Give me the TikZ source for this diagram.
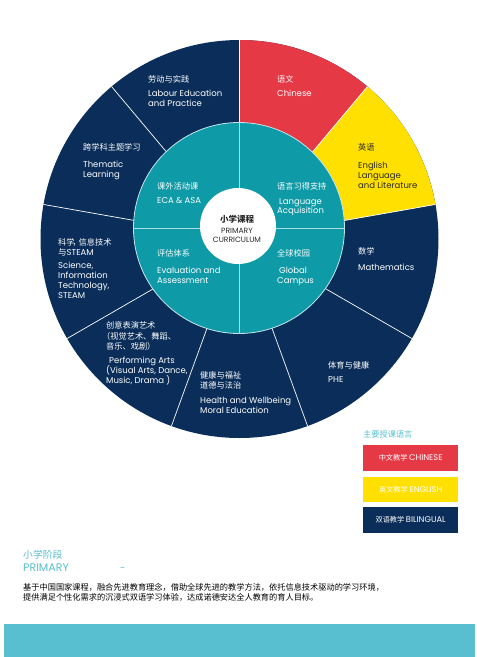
\documentclass[tikz,border=0pt]{standalone}
\usepackage{fontspec}
\setmainfont{Poppins}
\newfontfamily\cjk{Noto Sans CJK SC}
\definecolor{navy}{HTML}{0A2E59}
\definecolor{cred}{HTML}{E63946}
\definecolor{cyel}{HTML}{FFE000}
\definecolor{cteal}{HTML}{0E9AA6}
\definecolor{ccyan}{HTML}{57BFCF}
\definecolor{dark}{HTML}{2A2A2A}
\begin{document}
\begin{tikzpicture}[x=1pt,y=-1pt,
  en/.style={anchor=base west, inner sep=0, text=white, font=\fontsize{8.5}{9}\selectfont},
  zh/.style={anchor=base west, inner sep=0, text=white, font={\cjk\fontsize{8.2}{9}\selectfont}},
  ctr/.style={anchor=base, inner sep=0, text=dark, font=\fontsize{7.6}{8}\selectfont},
  divider/.style={draw=white, line width=0.7pt},
  cross/.style={draw=white!65!cteal, line width=0.8pt},
  legbox/.style={minimum width=95, minimum height=26, inner sep=0, text=white, font={\cjk\fontsize{7.2}{8}\selectfont}},
]
\useasboundingbox (0,0) rectangle (477,657);
% outer wheel
\coordinate (O) at (239.5,239);
\node[circle, fill=navy, minimum size=398, inner sep=0] (disk) at (O) {};
\fill[cred] (O) -- ++(-90:199) arc[start angle=-90, end angle=-50, radius=199] -- cycle;
\fill[cyel] (O) -- ++(-50:199) arc[start angle=-50, end angle=-10, radius=199] -- cycle;
\foreach \a in {-90,-50,-10,30,70,110,150,-170,-130}
  \draw[divider] (O) -- ++(\a:199);
% inner teal disc
\node[circle, fill=cteal, draw=white!75!cteal, line width=0.8pt, minimum size=211, inner sep=0] (inner) at (239,228) {};
\draw[cross] (inner.north) -- (inner.south);
\draw[cross] (inner.west) -- (inner.east);
\node[circle, fill=white, minimum size=76, inner sep=0] (core) at (238,226) {};
% centre text
\node[ctr, font={\cjk\bfseries\fontsize{8.5}{9}\selectfont}] (c1) at (237,222) {小学课程};
\node[ctr] (c2) at (237,233) {PRIMARY};
\node[ctr] (c3) at (237,242) {CURRICULUM};
% outer ring labels
\node[zh] (lab1) at (148,82) {劳动与实践};
\node[en] (lab2) at (148,96) {Labour Education};
\node[en] (lab3) at (148,106) {and Practice};
\node[zh] (chn1) at (277,82) {语文};
\node[en] (chn2) at (277,96) {Chinese};
\node[zh, text=dark] (eng1) at (358,150) {英语};
\node[en, text=dark] (eng2) at (358,168) {English};
\node[en, text=dark] (eng3) at (358,178) {Language};
\node[en, text=dark] (eng4) at (358,188) {and Literature};
\node[zh] (thm1) at (83,150) {跨学科主题学习};
\node[en] (thm2) at (83,167) {Thematic};
\node[en] (thm3) at (83,177) {Learning};
\node[zh] (sci1) at (58,245) {科学\kern-0.25em，\kern-0.25em 信息技术};
\node[en] (sci2) at (58,255) {{\cjk 与}STEAM};
\node[en] (sci3) at (58,268) {Science,};
\node[en] (sci4) at (58,278) {Information};
\node[en] (sci5) at (58,288) {Technology,};
\node[en] (sci6) at (58,298) {STEAM};
\node[zh] (prf1) at (106,328) {创意表演艺术};
\node[zh] (prf2) at (102,339) {（视觉艺术、舞蹈、};
\node[zh] (prf3) at (106,349) {音乐、戏剧）};
\node[en] (prf4) at (109,363) {Performing Arts};
\node[en] (prf5) at (106,373) {(Visual Arts, Dance,};
\node[en] (prf6) at (106,383) {Music, Drama )};
\node[zh] (hlt1) at (200,378) {健康与福祉};
\node[zh] (hlt2) at (200,388) {道德与法治};
\node[en] (hlt3) at (200,403) {Health and Wellbeing};
\node[en] (hlt4) at (200,413) {Moral Education};
\node[zh] (phe1) at (328,368) {体育与健康};
\node[en] (phe2) at (328,382) {PHE};
\node[zh] (mth1) at (358,254) {数学};
\node[en] (mth2) at (358,270) {Mathematics};
% inner labels
\node[zh] (eca1) at (157,189) {课外活动课};
\node[en] (eca2) at (157,203) {ECA \& ASA};
\node[zh] (lac1) at (277,189) {语言习得支持};
\node[en] (lac2) at (279,204) {Language};
\node[en] (lac3) at (277,213) {Acquisition};
\node[zh] (evl1) at (157,256) {评估体系};
\node[en] (evl2) at (157,273) {Evaluation and};
\node[en] (evl3) at (157,283) {Assessment};
\node[zh] (glb1) at (277,256) {全球校园};
\node[en] (glb2) at (279,273) {Global};
\node[en] (glb3) at (277,283) {Campus};
% legend
\node[zh, text=ccyan] (legt) at (363,437) {主要授课语言};
\node[legbox, fill=cred, anchor=north west] (leg1) at (363,445) {中文教学 {\rmfamily\fontsize{8.3}{9}\selectfont CHINESE}};
\node[legbox, fill=cyel, anchor=north west, minimum height=25] (leg2) at (363,477) {英文教学 {\rmfamily\fontsize{8.3}{9}\selectfont ENGLISH}};
\node[legbox, fill=navy, anchor=north west] (leg3) at (363,507) {双语教学 {\rmfamily\fontsize{8.3}{9}\selectfont BILINGUAL}};
% bottom text
\node[anchor=base west, inner sep=0, text=ccyan, font={\cjk\fontsize{9.8}{11}\selectfont}] (st1) at (23,558) {小学阶段};
\node[anchor=base west, inner sep=0, text=ccyan, font=\fontsize{11}{12}\selectfont] (st2) at (23,571) {PRIMARY};
\node[anchor=base west, inner sep=0, text=ccyan, font=\fontsize{9.5}{11}\selectfont] (st3) at (120,571) {-};
\node[anchor=base west, inner sep=0, text=black, font={\cjk\fontsize{8.2}{10}\selectfont}] (par1) at (23,590) {基于中国国家课程，融合先进教育理念，借助全球先进的教学方法，依托信息技术驱动的学习环境，};
\node[anchor=base west, inner sep=0, text=black, font={\cjk\fontsize{8.2}{10}\selectfont}] (par2) at (23,600) {提供满足个性化需求的沉浸式双语学习体验，达成诺德安达全人教育的育人目标。};
\fill[ccyan] (4,624) rectangle (475,657);
\end{tikzpicture}
\end{document}
